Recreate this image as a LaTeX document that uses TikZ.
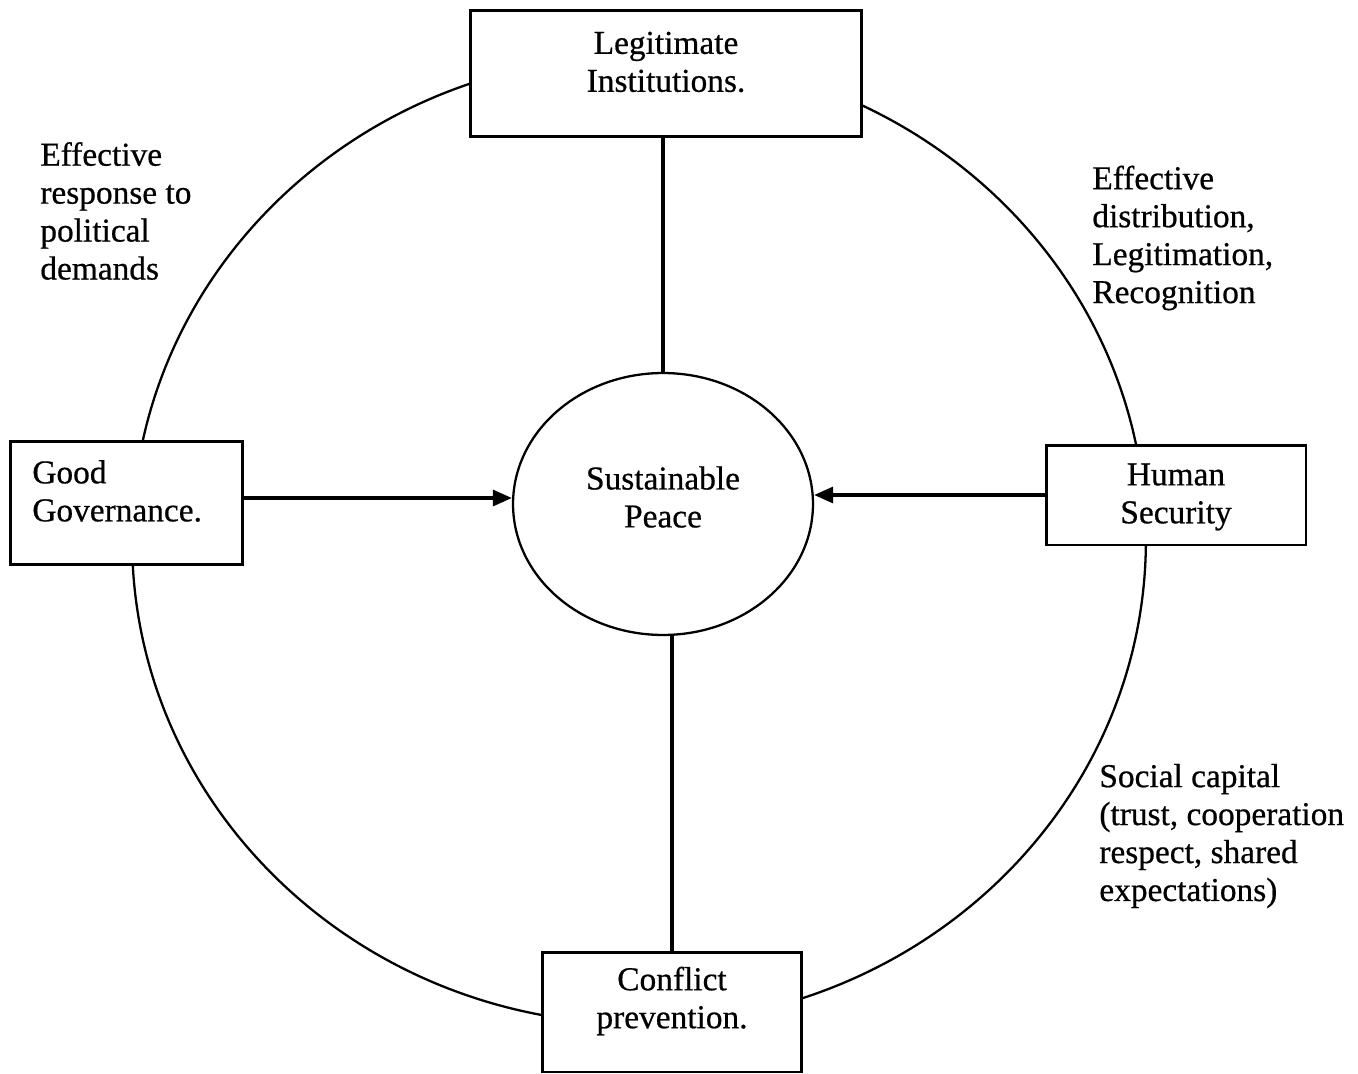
\documentclass[tikz,border=0pt]{standalone}
\usepackage{fontspec}
\setmainfont{Liberation Serif}[FakeBold=0.6]
\usetikzlibrary{arrows.meta, positioning, shapes.geometric}

\begin{document}
\begin{tikzpicture}[
    x=0.02cm, y=-0.02cm,
    % === STYLES ===
    box/.style={
        rectangle,
        draw=black,
        fill=white,
        line width=1.7pt,
        inner sep=0pt
    },
    hub/.style={
        ellipse,
        draw=black,
        line width=1.3pt,
        minimum width=6cm,
        minimum height=5.24cm,
        inner sep=0pt
    },
    boxtext/.style={
        font=\fontsize{19}{21.6}\selectfont,
        align=center,
        inner sep=0pt
    },
    annot/.style={
        font=\fontsize{19}{21.6}\selectfont,
        align=left,
        anchor=west,
        inner sep=0pt
    },
    ring/.style={line width=1.3pt},
    link/.style={line width=1.8pt},
    arrow/.style={
        -{Triangle[length=0.38cm, width=0.32cm]},
        line width=1.8pt
    }
]
\useasboundingbox (0,0) rectangle (1358,1074);

% === OUTER RING ===
\draw[ring] (639,540) ellipse [x radius=10.14cm, y radius=9.68cm];

% === CENTRE ===
\node[hub] (peace) at (663,504) {};
\node[boxtext] (peace-txt) at ([yshift=0.14cm]peace.center) {Sustainable\\Peace};

% === BOXES ===
\node[box, minimum width=7.84cm, minimum height=2.54cm] (legit) at (666,73.5) {};
\node[boxtext] (legit-txt) at ([yshift=0.23cm]legit.center) {Legitimate\\Institutions.};

\node[box, minimum width=4.66cm, minimum height=2.48cm] (govern) at (126.5,503) {};
\node[boxtext, align=left, anchor=west] (govern-txt) at (32,491) {Good\\Governance.};

\node[box, minimum width=5.2cm, minimum height=2.0cm] (security) at (1176,495) {};
\node[boxtext] (security-txt) at ([yshift=-0.04cm]security.center) {Human\\Security};

\node[box, minimum width=5.2cm, minimum height=2.4cm] (prevent) at (672,1012) {};
\node[boxtext] (prevent-txt) at ([yshift=0.22cm]prevent.center) {Conflict\\prevention.};

% === CONNECTIONS ===
\draw[link] (legit.south -| peace.north) -- (peace.north);
\draw[link] (prevent.north) -- (prevent.north |- peace.south);
\draw[arrow] ([yshift=0.1cm]govern.east) -- ([yshift=0.1cm]govern.east -| peace.west);
\draw[arrow] (security.west) -- (security.west -| peace.east);

% === ANNOTATIONS ===
\node[annot] (response) at (40,211) {Effective\\response to\\political\\demands};
\node[annot] (distrib) at (1092,238) {Effective\\distribution,\\Legitimation,\\Recognition};
\node[annot] (social) at (1099,836) {Social capital\\(trust, cooperation\\respect, shared\\expectations)};

\end{tikzpicture}
\end{document}
